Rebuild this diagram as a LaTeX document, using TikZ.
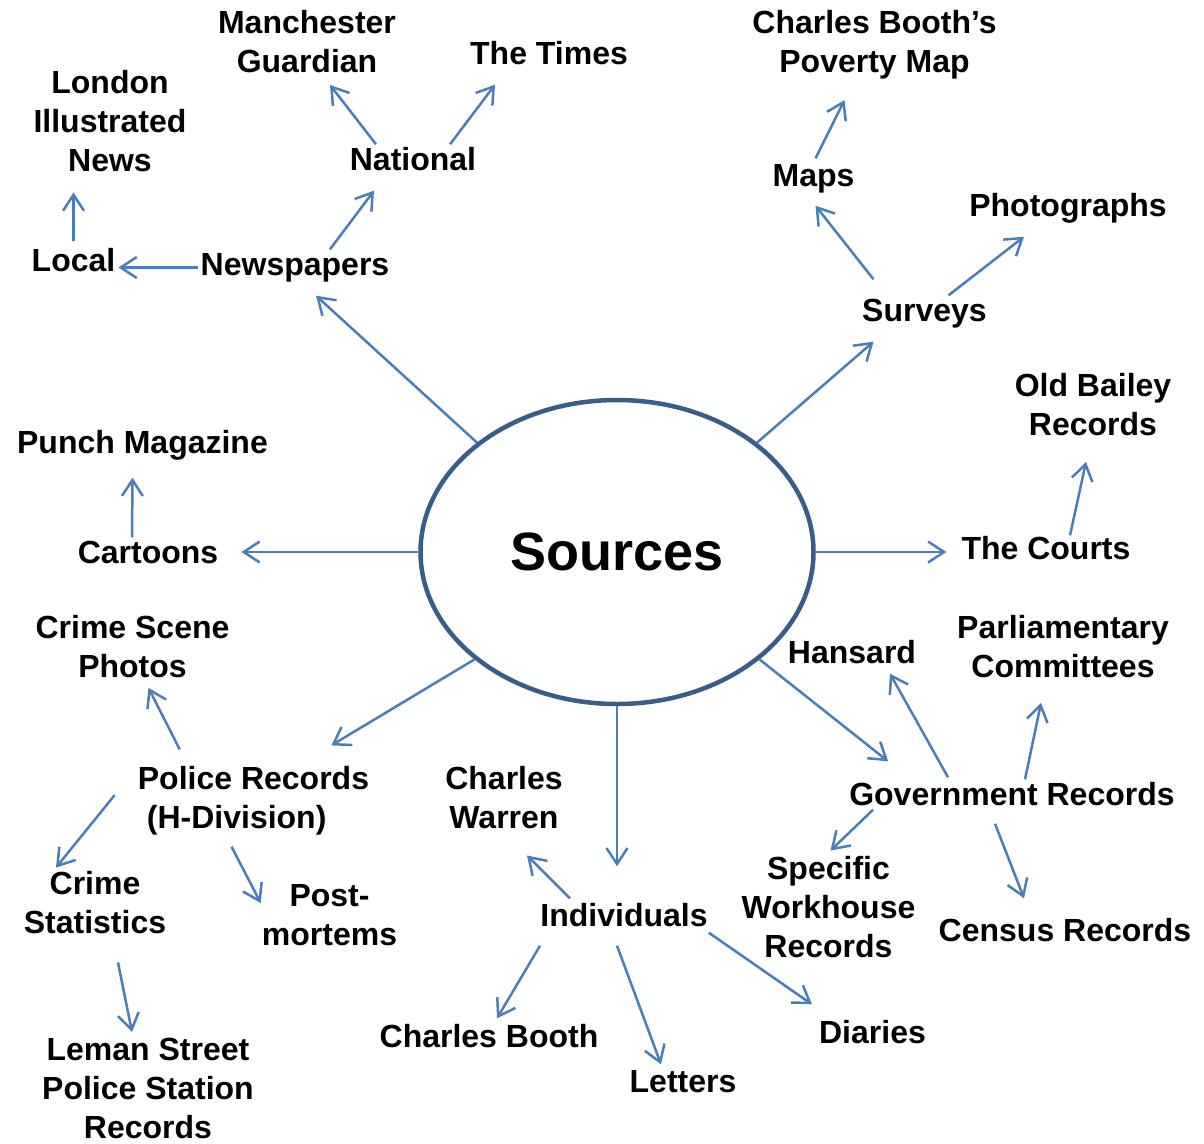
\documentclass[tikz,border=0pt]{standalone}
\usepackage{fontspec}
\setmainfont{Liberation Sans}
\usetikzlibrary{arrows.meta,shapes.geometric}
\definecolor{arrblue}{HTML}{4A7EBB}
\definecolor{rimblue}{HTML}{385D8A}
\begin{document}
\begin{tikzpicture}[x=1pt, y=-1pt,
  lbl/.style={inner sep=3pt, font=\bfseries\fontsize{32pt}{39pt}\selectfont},
  one/.style={lbl, text height=23pt, text depth=7pt},
  many/.style={lbl, align=center},
  arr/.style={draw=arrblue, line width=2.5pt, -{Straight Barb[length=16pt,width=21pt]}}]
\useasboundingbox (0,0) rectangle (1204,1143);
% centre
\node[ellipse, draw=rimblue, line width=4.5pt, minimum width=393pt, minimum height=304pt, inner sep=0pt,
  font=\bfseries\fontsize{54pt}{60pt}\selectfont] (src) at (617,552) {Sources};
% newspapers
\node[one] (news) at (295,267.5) {Newspapers};
\node[one] (local) at (73.5,263.5) {Local};
\node[many] (london) at (110,121.5) {London\\Illustrated\\News};
\node[one] (national) at (413,162.5) {National};
\node[many] (manchester) at (307,41.5) {Manchester\\Guardian};
\node[one] (times) at (549,56.5) {The Times};
% surveys
\node[one] (surveys) at (924.5,313.5) {Surveys};
\node[one] (maps) at (813.5,178.5) {Maps};
\node[many] (poverty) at (874.5,44.5) {Charles Booth’s\\Poverty Map};
\node[one] (photos) at (1068,208.5) {Photographs};
% courts
\node[one] (courts) at (1046,551.5) {The Courts};
\node[many] (oldbailey) at (1093,404.5) {Old Bailey\\Records};
% cartoons
\node[one] (cartoons) at (148,555.5) {Cartoons};
\node[one] (punch) at (142.5,445.5) {Punch Magazine};
% government
\node[one] (govt) at (1012,797.5) {Government Records};
\node[one] (hansard) at (852,655.5) {Hansard};
\node[many] (parl) at (1063,646.5) {Parliamentary\\Committees};
\node[many] (specific) at (828.5,907.5) {Specific\\Workhouse\\Records};
\node[one] (census) at (1065,933.5) {Census Records};
% individuals
\node[one] (indiv) at (624,918.5) {Individuals};
\node[many] (warren) at (504,798) {Charles\\Warren};
\node[one] (cbooth) at (489,1039.5) {Charles Booth};
\node[one] (letters) at (683,1084.5) {Letters};
\node[one] (diaries) at (872.5,1035.5) {Diaries};
% police
\node[lbl, align=left] (police) at (253.5,801) {Police Records\\\hspace*{9pt}(H-Division)};
\node[many] (crimescene) at (132.5,646.5) {Crime Scene\\Photos};
\node[many] (crimestats) at (95,903) {Crime\\Statistics};
\node[many] (postmortem) at (329.5,915) {Post-\\mortems};
\node[many] (leman) at (148,1088.5) {Leman Street\\Police Station\\Records};

\draw[arr] (src.142) -- ([xshift=21pt,yshift=-10pt]news.south);
\draw[arr] (news.west) -- (news.west -| local.east);
\draw[arr, shorten <=4pt, shorten >=17pt] (local.north) -- (local.north |- london.south);
\draw[arr] ([xshift=35pt]news.north) -- ([xshift=-39pt,yshift=-10pt]national.south);
\draw[arr] ([xshift=-37pt]national.north) -- ([xshift=23pt,yshift=-9pt]manchester.south);
\draw[arr] ([xshift=37pt]national.north) -- ([xshift=-54pt,yshift=-10pt]times.south);

\draw[arr] (src.38) -- ([xshift=-51pt,yshift=-10pt]surveys.south);
\draw[arr] ([xshift=-51pt,yshift=16pt]surveys.north) -- ([xshift=2pt,yshift=-9pt]maps.south);
\draw[arr] ([xshift=2pt,yshift=2pt]maps.north) -- ([xshift=-30pt,yshift=-18pt]poverty.south);
\draw[arr] ([xshift=24pt]surveys.north) -- ([xshift=-44pt,yshift=-10pt]photos.south);

\draw[arr, shorten >=12pt] (src.east) -- (src.east -| courts.west);
\draw[arr] ([xshift=24pt,yshift=-2pt]courts.north) -- ([xshift=-7pt,yshift=-23pt]oldbailey.south);

\draw[arr, shorten >=20pt] (src.west) -- (src.west -| cartoons.east);
\draw[arr] ([xshift=-16pt]cartoons.north) -- ([xshift=-10pt,yshift=-14pt]punch.south);

\draw[arr] (src.-37.5) -- ([xshift=42pt,yshift=18pt]govt.north west);
\draw[arr] ([xshift=-64pt,yshift=2pt]govt.north) -- ([xshift=38pt]hansard.south);
\draw[arr] ([xshift=13pt]govt.north) -- ([xshift=-22pt,yshift=-22pt]parl.south);
\draw[arr] ([xshift=27pt,yshift=6pt]govt.south west) -- ([xshift=2pt,yshift=3pt]specific.north);
\draw[arr] ([xshift=-17pt,yshift=-8pt]govt.south) -- ([xshift=-41pt,yshift=17pt]census.north);

\draw[arr] (src.south) -- ([xshift=-7pt,yshift=34pt]indiv.north);
\draw[arr] ([xshift=-54pt,yshift=2pt]indiv.north) -- ([xshift=23pt,yshift=-23pt]warren.south);
\draw[arr] ([xshift=-84pt,yshift=-9pt]indiv.south) -- ([xshift=8pt,yshift=3pt]cbooth.north);
\draw[arr] ([xshift=-7pt,yshift=-9pt]indiv.south) -- ([xshift=-22pt,yshift=2pt]letters.north);
\draw[arr] ([xshift=-2pt,yshift=4pt]indiv.south east) -- ([xshift=-4pt,yshift=13pt]diaries.north west);

\draw[arr] (src.217) -- ([xshift=-41pt,yshift=18pt]police.north east);
\draw[arr] ([xshift=45pt,yshift=14pt]police.north west) -- ([xshift=16pt,yshift=-7pt]crimescene.south);
\draw[arr] ([xshift=-20pt,yshift=6pt]police.west) -- ([xshift=-39pt,yshift=1pt]crimestats.north);
\draw[arr] ([xshift=-22pt,yshift=-8pt]police.south) -- ([xshift=2pt,yshift=12pt]postmortem.west);
\draw[arr] ([xshift=23pt,yshift=-25pt]crimestats.south) -- ([xshift=-16pt,yshift=3pt]leman.north);
\end{tikzpicture}
\end{document}
